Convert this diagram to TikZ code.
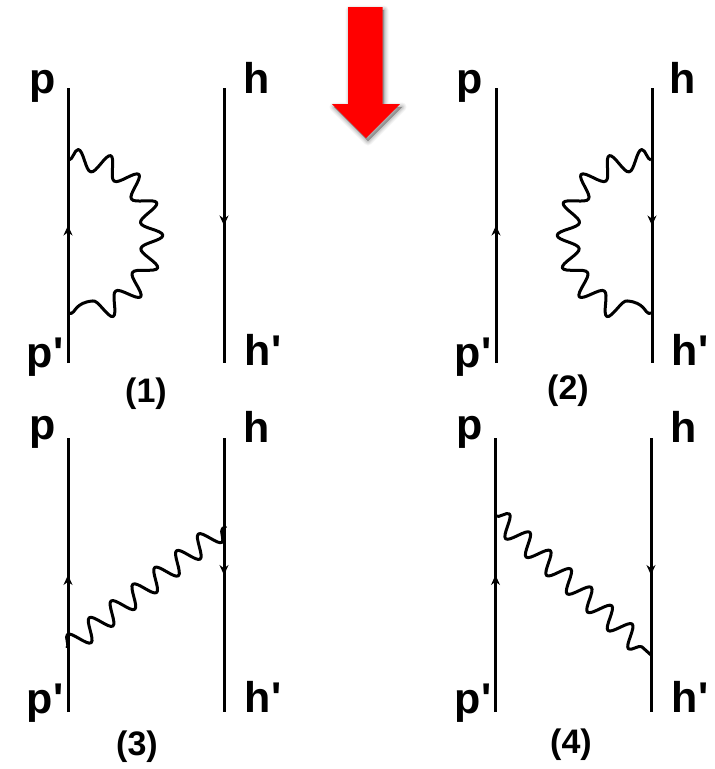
\documentclass[tikz,border=0pt]{standalone}
\usepackage{fontspec}
\setmainfont{Liberation Sans}
\usepackage{xcolor}
\usetikzlibrary{arrows.meta, decorations.pathmorphing, decorations.markings}
\definecolor{arrowred}{RGB}{255,0,0}

\begin{document}
\begin{tikzpicture}[
  x=1pt, y=-1pt,
  leg/.style={font=\fontsize{43}{43}\bfseries, inner sep=0pt},
  tag/.style={font=\fontsize{34}{34}\bfseries, inner sep=0pt},
  upline/.style={line width=3pt, postaction={decorate}, decoration={markings,
                 mark=at position 0.5 with {\arrow[line width=1pt]{Stealth[length=10pt,width=9pt]}}}},
  downline/.style={upline},
  photon/.style={line width=3pt, line join=round, decorate,
                 decoration={snake, segment length=27.5pt, amplitude=10.5pt}},
  loopphoton/.style={photon, decoration={segment length=29.5pt}},
]
\useasboundingbox (0,0) rectangle (715,769);

% red arrow
\foreach \s/\o in {9/0.04, 7/0.05, 5/0.06, 3/0.07, 1/0.08}
  \fill[black, opacity=\o, line join=round, draw=black, line width=\s pt]
    (350,10) -- (384,10) -- (384,107) -- (402,107) -- (368,141) -- (334,107) -- (350,107) -- cycle;
\fill[arrowred] (348,7) -- (382.5,7) -- (382.5,104) -- (400,104) -- (366,138) -- (332,104) -- (348,104) -- cycle;

% (1)
\node[leg] (p1)  at (43,86)  {p};
\node[leg] (h1)  at (257,78) {h};
\node[leg] (pp1) at (45,357) {p\textquotesingle};
\node[leg] (hh1) at (263,350) {h\textquotesingle};
\node[tag] (t1)  at (146,394) {(1)};
\coordinate (p1a) at (68,88);   \coordinate (p1b) at (68,363);
\coordinate (h1a) at (224,88);  \coordinate (h1b) at (224,363);
\coordinate (v1a) at (69,160);  \coordinate (v1b) at (69,313);
\draw[upline]   (p1b) -- (p1a);
\draw[downline] (h1a) -- (h1b);
\draw[loopphoton] (v1a) to[out=0, in=0, looseness=1.7] (v1b);

% (2)
\node[leg] (p2)  at (470,86)  {p};
\node[leg] (h2)  at (683,78)  {h};
\node[leg] (pp2) at (473,357) {p\textquotesingle};
\node[leg] (hh2) at (690,350) {h\textquotesingle};
\node[tag] (t2)  at (568,391) {(2)};
\coordinate (p2a) at (496,88);  \coordinate (p2b) at (496,363);
\coordinate (h2a) at (652,88);  \coordinate (h2b) at (652,363);
\coordinate (v2a) at (651,160); \coordinate (v2b) at (651,313);
\draw[upline]   (p2b) -- (p2a);
\draw[downline] (h2a) -- (h2b);
\draw[loopphoton, decoration={mirror}] (v2a) to[out=180, in=180, looseness=1.7] (v2b);

% (3)
\node[leg] (p3)  at (43,432)  {p};
\node[leg] (h3)  at (257,427) {h};
\node[leg] (pp3) at (45,703)  {p\textquotesingle};
\node[leg] (hh3) at (263,697) {h\textquotesingle};
\node[tag] (t3)  at (137,747) {(3)};
\coordinate (p3a) at (68,438);  \coordinate (p3b) at (68,712);
\coordinate (h3a) at (224,438); \coordinate (h3b) at (224,712);
\coordinate (v3a) at (67,648);  \coordinate (v3b) at (226,526);
\draw[upline]   (p3b) -- (p3a);
\draw[downline] (h3a) -- (h3b);
\draw[photon]   (v3a) -- (v3b);

% (4)
\node[leg] (p4)  at (470,432) {p};
\node[leg] (h4)  at (684,427) {h};
\node[leg] (pp4) at (473,703) {p\textquotesingle};
\node[leg] (hh4) at (690,697) {h\textquotesingle};
\node[tag] (t4)  at (571,745) {(4)};
\coordinate (p4a) at (495.5,438); \coordinate (p4b) at (495.5,712);
\coordinate (h4a) at (651,438);   \coordinate (h4b) at (651,712);
\coordinate (v4a) at (496,516);   \coordinate (v4b) at (651,655);
\draw[upline]   (p4b) -- (p4a);
\draw[downline] (h4a) -- (h4b);
\draw[photon]   (v4a) -- (v4b);

\end{tikzpicture}
\end{document}
